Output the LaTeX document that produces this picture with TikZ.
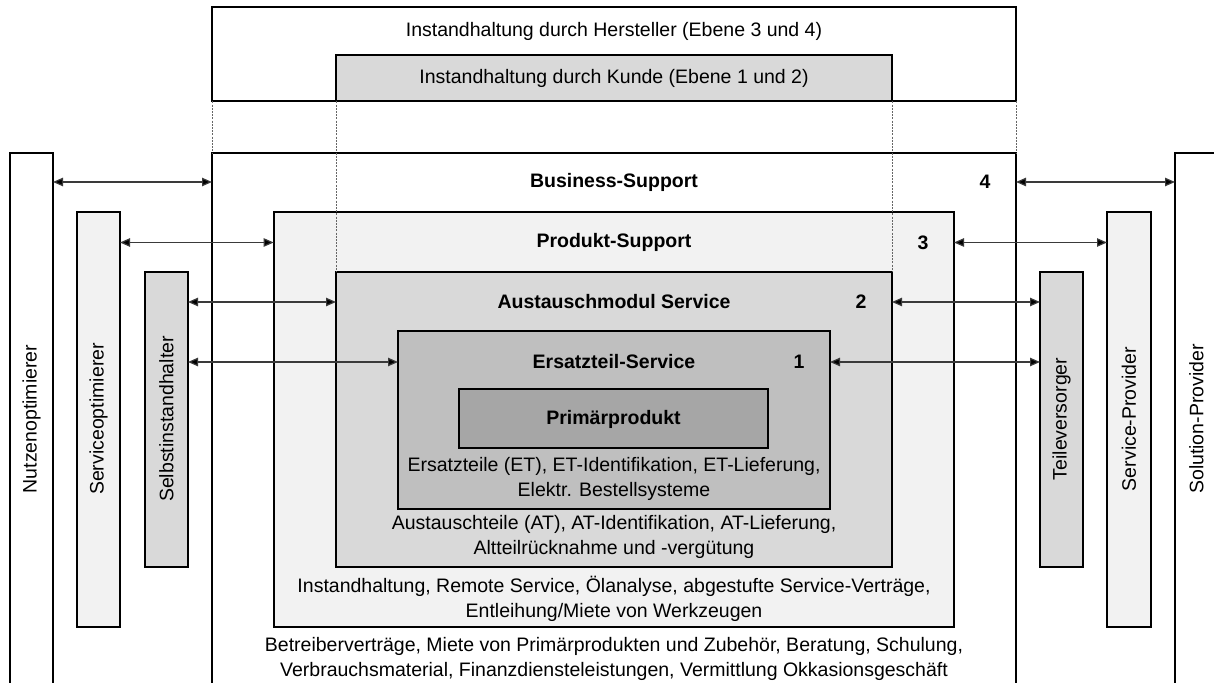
\documentclass[tikz,border=0pt]{standalone}
\usepackage{fontspec}
\setmainfont{Liberation Sans}
\usetikzlibrary{arrows.meta,fit}
\definecolor{levelA}{HTML}{F2F2F2}
\definecolor{levelB}{HTML}{D9D9D9}
\definecolor{levelC}{HTML}{BFBFBF}
\definecolor{levelD}{HTML}{A6A6A6}
\definecolor{connGray}{HTML}{3A3A3A}
\begin{document}
\begin{tikzpicture}[x=0.5pt,y=-0.5pt,
  box/.style={draw=black, line width=1pt, inner sep=0pt, outer sep=0pt},
  txt/.style={inner sep=0pt, font=\fontsize{9.75}{12.5}\selectfont, align=center},
  head/.style={txt, font=\fontsize{9.75}{12.5}\selectfont\bfseries},
  vtext/.style={txt, rotate=90},
  conn/.style={draw=connGray, line width=0.6pt,
    {Triangle[length=5pt,width=4.2pt,fill=black]}-{Triangle[length=5pt,width=4.2pt,fill=black]}},
  dotline/.style={draw=black!60, line width=0.5pt, dash pattern=on 1pt off 0.6pt}]
\useasboundingbox (0,0) rectangle (1214,683);
\clip (0,0) rectangle (1214,683);

% nested service levels
\node[box, fill=white,  fit={(212,153)(1016,700)}]     (business) {};
\node[box, fill=levelA, fit={(273.7,211.7)(954,626.7)}] (produkt) {};
\node[box, fill=levelB, fit={(336,272)(892,567)}]       (austausch) {};
\node[box, fill=levelC, fit={(398,331)(830,509)}]       (ersatz) {};
\node[box, fill=levelD, fit={(459,389.5)(768,448.5)}]   (primaer) {};

% level titles and numbers
\node[head] (bizlbl) at (614,182) {Business-Support};
\node[head] (n4) at (985,182) {4};
\node[head] (prodlbl) at (614,242.5) {Produkt-Support};
\node[head] (n3) at (923,242.5) {3};
\node[head] (auslbl) at (614,302) {Austauschmodul Service};
\node[head] (n2) at (861,302) {2};
\node[head] (etlbl) at (614,362) {Ersatzteil-Service};
\node[head] (n1) at (799,362) {1};
\node[head] (primlbl) at (primaer.center) {Primärprodukt};

% level contents
\node[txt] (etdesc) at (614,479) {Ersatzteile (ET), ET-Identifikation, ET-Lieferung,\\Elektr. Bestellsysteme};
\node[txt] (ausdesc) at (614,537) {Austauschteile (AT), AT-Identifikation, AT-Lieferung,\\Altteilrücknahme und -vergütung};
\node[txt] (proddesc) at (614,598.5) {Instandhaltung, Remote Service, Ölanalyse, abgestufte Service-Verträge,\\Entleihung/Miete von Werkzeugen};
\node[txt] (bizdesc) at (614,658.5) {Betreiberverträge, Miete von Primärprodukten und Zubehör, Beratung, Schulung,\\Verbrauchsmaterial, Finanzdiensteleistungen, Vermittlung Okkasionsgeschäft};

% actor bars, left side
\node[box, fill=white,  fit={(10,153)(53,700)}]       (nutzen) {};
\node[box, fill=levelA, fit={(77,211.7)(120,626.7)}]  (servopt) {};
\node[box, fill=levelB, fit={(145,272)(188,567)}]     (selbst) {};
% actor bars, right side
\node[box, fill=levelB, fit={(1040,272)(1083,567)}]   (teile) {};
\node[box, fill=levelA, fit={(1107,211.7)(1151,626.7)}] (servprov) {};
\node[box, fill=white,  fit={(1175,153)(1230,700)}]   (solution) {};

\node[vtext] (nutzenlbl)   at (31.5,419)  {Nutzenoptimierer};
\node[vtext] (servoptlbl)  at (98.5,419)  {Serviceoptimierer};
\node[vtext] (selbstlbl)   at (166.5,419) {Selbstinstandhalter};
\node[vtext] (teilelbl)    at (1061.5,419) {Teileversorger};
\node[vtext] (servprovlbl) at (1129,419)  {Service-Provider};
\node[vtext] (solutionlbl) at (1196.5,419) {Solution-Provider};

% maintenance responsibility
\node[box, fill=white,  fit={(212,7.5)(1016,101.5)}] (hersteller) {};
\node[box, fill=levelB, fit={(336,55)(892,101.5)}]   (kunde) {};
\node[txt] (herstlbl) at (614,31) {Instandhaltung durch Hersteller (Ebene 3 und 4)};
\node[txt] (kundelbl) at (kunde.center) {Instandhaltung durch Kunde (Ebene 1 und 2)};

% guide lines
\draw[dotline] (hersteller.south west) -- (business.north west);
\draw[dotline] (hersteller.south east) -- (business.north east);
\draw[dotline] (kunde.south west) -- (austausch.north west);
\draw[dotline] (kunde.south east) -- (austausch.north east);

% relations between actors and levels
\draw[conn] (nutzen.east |- bizlbl) -- (business.west |- bizlbl);
\draw[conn] (business.east |- bizlbl) -- (solution.west |- bizlbl);
\draw[conn] (servopt.east |- prodlbl) -- (produkt.west |- prodlbl);
\draw[conn] (produkt.east |- prodlbl) -- (servprov.west |- prodlbl);
\draw[conn] (selbst.east |- auslbl) -- (austausch.west |- auslbl);
\draw[conn] (austausch.east |- auslbl) -- (teile.west |- auslbl);
\draw[conn] (selbst.east |- etlbl) -- (ersatz.west |- etlbl);
\draw[conn] (ersatz.east |- etlbl) -- (teile.west |- etlbl);
\end{tikzpicture}
\end{document}
